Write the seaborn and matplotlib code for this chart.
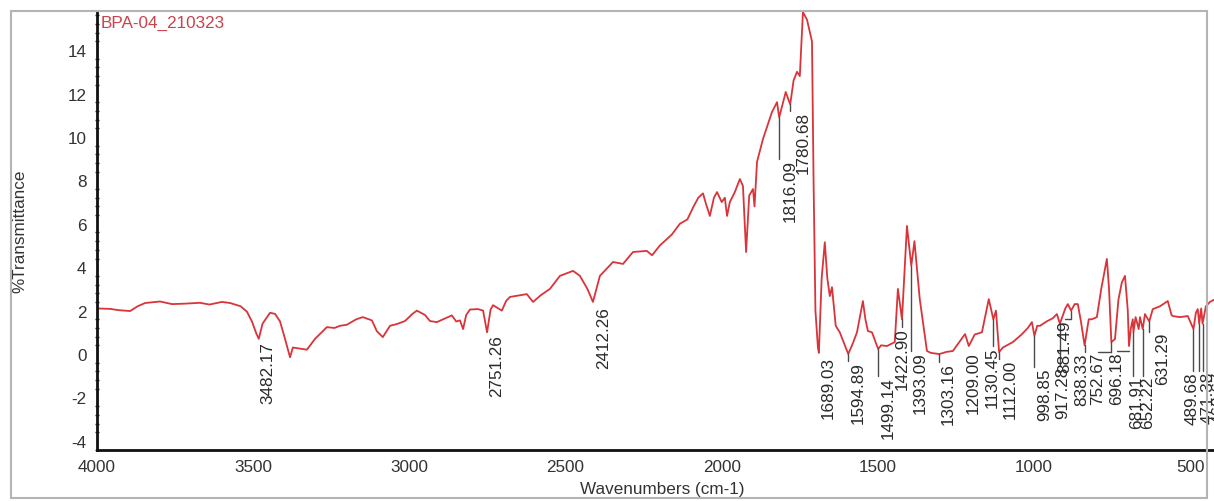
import numpy as np
import pandas as pd
import matplotlib
matplotlib.use("Agg")
import matplotlib.pyplot as plt
from matplotlib.ticker import MultipleLocator
from matplotlib.patches import Rectangle
import seaborn as sns

# ---- spectrum (wavenumber in cm-1, %T) ----
wavenumbers = [
    4000, 3958, 3930, 3894, 3870, 3846, 3798, 3760, 3720, 3670, 3640, 3600,
    3574, 3540, 3520, 3504, 3490, 3482.17, 3470, 3446, 3430, 3414, 3400, 3382,
    3373, 3350, 3328, 3302, 3264, 3240, 3222, 3200, 3170, 3149, 3120, 3104,
    3085, 3062, 3040, 3014, 2990, 2976, 2950, 2934, 2912, 2892, 2864, 2850,
    2838, 2828, 2818, 2806, 2780, 2764, 2751.26, 2740, 2732, 2715, 2704, 2690,
    2678, 2650, 2624, 2604, 2580, 2550, 2518, 2476, 2454, 2430, 2412.26, 2390,
    2348, 2316, 2284, 2240, 2223, 2198, 2160, 2134, 2110, 2090, 2075, 2060,
    2050, 2038, 2025, 2015, 2000, 1990, 1983, 1974, 1958, 1942, 1932, 1922,
    1912, 1900, 1895, 1887, 1868, 1839, 1823, 1816.09, 1807, 1795, 1786, 1780.68,
    1770, 1759, 1750, 1740, 1727, 1711, 1706, 1700, 1692, 1689.03, 1680, 1670,
    1662, 1654, 1647, 1635, 1622, 1594.89, 1580, 1567, 1548, 1540, 1532, 1519,
    1499.14, 1490, 1471, 1446, 1436, 1422.90, 1407, 1393.09, 1383, 1366, 1343, 1330,
    1303.16, 1280, 1260, 1221, 1209.00, 1190, 1167, 1145, 1130.45, 1122, 1112.00, 1100,
    1068, 1040, 1020, 1007, 998.85, 990, 981, 960, 940, 927, 917.28, 900,
    892, 881.49, 870, 860, 850, 838.33, 825, 815, 799, 785, 767, 760,
    752.67, 741, 730, 719, 709, 700, 696.18, 690, 684, 681.91, 675, 665,
    661, 652.22, 645, 631.29, 620, 597, 572, 560, 556, 533, 508, 489.68,
    482, 476, 471.38, 465, 460.67, 450, 437, 424,
]
transmittance = [
    2.10, 2.08, 2.02, 1.98, 2.20, 2.35, 2.42, 2.30, 2.32, 2.36, 2.28, 2.40,
    2.35, 2.20, 1.95, 1.50, 0.95, 0.70, 1.40, 1.90, 1.85, 1.50, 0.80, -0.15,
    0.30, 0.25, 0.20, 0.70, 1.24, 1.20, 1.30, 1.35, 1.60, 1.70, 1.55, 1.05,
    0.78, 1.30, 1.38, 1.52, 1.85, 2.00, 1.80, 1.52, 1.47, 1.60, 1.78, 1.50,
    1.55, 1.15, 1.80, 2.05, 2.07, 2.00, 1.00, 2.05, 2.25, 2.10, 2.00, 2.45,
    2.63, 2.70, 2.76, 2.40, 2.70, 3.00, 3.60, 3.83, 3.60, 3.00, 2.40, 3.60,
    4.24, 4.15, 4.70, 4.75, 4.55, 5.00, 5.50, 6.00, 6.20, 6.80, 7.20, 7.40,
    6.90, 6.36, 7.20, 7.46, 7.00, 7.20, 6.36, 7.00, 7.46, 8.06, 7.74, 4.70,
    7.30, 7.60, 6.80, 8.85, 9.90, 11.15, 11.60, 10.90, 11.40, 12.07, 11.70, 11.50,
    12.60, 13.00, 12.80, 15.75, 15.40, 14.40, 8.00, 2.00, 0.30, 0.05, 3.50, 5.15,
    3.50, 2.67, 3.08, 1.30, 1.00, 0.00, 0.50, 1.00, 2.44, 1.60, 1.06, 1.00,
    0.23, 0.40, 0.37, 0.55, 3.00, 1.60, 5.90, 4.06, 5.20, 2.53, 0.14, 0.05,
    0.00, 0.10, 0.14, 0.92, 0.37, 0.90, 1.00, 2.53, 1.60, 2.00, 0.09, 0.30,
    0.55, 0.90, 1.20, 1.47, 0.83, 1.30, 1.30, 1.50, 1.65, 1.84, 1.40, 2.10,
    2.30, 2.00, 2.30, 2.30, 1.50, 0.40, 1.60, 1.60, 1.70, 3.00, 4.38, 3.00,
    0.55, 0.69, 2.50, 3.30, 3.60, 2.00, 0.37, 1.20, 1.60, 1.00, 1.70, 1.15,
    1.70, 1.15, 1.84, 1.50, 2.07, 2.20, 2.44, 1.80, 1.75, 1.70, 1.75, 1.15,
    1.90, 2.07, 1.40, 2.10, 1.40, 2.20, 2.40, 2.50,
]
assert len(wavenumbers) == len(transmittance)

# ---- peak labels ----
peak_labels = [
    "3482.17", "2751.26", "2412.26", "1816.09", "1780.68", "1689.03", "1594.89",
    "1499.14", "1422.90", "1393.09", "1303.16", "1209.00", "1130.45", "1112.00",
    "998.85", "917.28", "881.49", "838.33", "752.67", "696.18", "681.91",
    "652.22", "631.29", "489.68", "471.38", "460.67",
]
# label placement: text centre (cm-1) and top of the text (%T)
label_x = [
    3453, 2720, 2377, 1782, 1740, 1660, 1564,
    1468, 1423, 1366, 1276, 1196, 1135, 1077,
    965, 908, 902, 847, 796, 735, 671,
    636, 588, 495, 444, 409,
]
label_top = [
    0.60, 0.92, 2.21, 8.99, 11.20, -0.09, -0.32,
    -1.01, 1.24, 0.14, -0.37, 0.14, 0.37, -0.23,
    -0.60, -0.55, 1.60, 0.09, 0.09, 0.14, -1.01,
    -1.01, 1.01, -0.78, -0.78, -0.78,
]

x_ticks = [4000, 3500, 3000, 2500, 2000, 1500, 1000, 500]
y_ticks = [-4, -2, 0, 2, 4, 6, 8, 10, 12, 14]

sns.set_theme(style="white")
plt.rcParams["font.family"] = ["Liberation Sans", "DejaVu Sans"]
plt.rcParams["axes.unicode_minus"] = False

W, H = 1214, 502
fig = plt.figure(figsize=(W / 100, H / 100), dpi=100)
ax = fig.add_axes([97 / W, 1 - 451 / H, 1117 / W, 439 / H])

df = pd.DataFrame({"wavenumber": wavenumbers, "T": transmittance})
sns.lineplot(data=df, x="wavenumber", y="T", ax=ax, color="#d8343a",
             linewidth=1.3, sort=False, estimator=None)

ax.set_xlim(4000, 424)
ax.set_ylim(-4.42, 15.8)
ax.set_xticks(x_ticks)
ax.set_yticks(y_ticks)
ax.yaxis.set_minor_locator(MultipleLocator(0.4))

for side in ("top", "right"):
    ax.spines[side].set_visible(False)
for side in ("left", "bottom"):
    ax.spines[side].set_color("#111111")
    ax.spines[side].set_linewidth(2.0)

fs = 12.3
ax.tick_params(axis="both", which="major", labelsize=fs, colors="#111111",
               labelcolor="#333333", length=4, width=1.2, direction="out")
ax.tick_params(axis="y", which="major", pad=3.5)
ax.tick_params(axis="x", which="major", pad=2.5)
ax.tick_params(axis="y", which="minor", length=2.5, width=1.0, color="#222222",
               direction="inout", left=True)

ax.set_xlabel("Wavenumbers (cm-1)", fontsize=fs, color="#333333")
ax.set_ylabel("%Transmittance", fontsize=fs, color="#333333")
ax.xaxis.set_label_coords(0.506, -0.071)
ax.yaxis.set_label_coords(-0.062, 0.5)

ax.text(0.003, 0.992, "BPA-04_210323", transform=ax.transAxes, fontsize=fs,
        color="#c8434d", ha="left", va="top")

# peak annotations with leader lines
px_per_wn = 1117 / (4000 - 424)
wn_sorted = np.array(wavenumbers[::-1], dtype=float)
t_sorted = np.array(transmittance[::-1], dtype=float)
for lab, lx, ly in zip(peak_labels, label_x, label_top):
    pk = float(lab)
    ty = float(np.interp(pk, wn_sorted, t_sorted))
    if ty - ly > 0.25:
        ax.plot([pk, pk], [ty, ly], color="#4a4a4a", linewidth=1.0, clip_on=False)
    dx_px = (pk - lx) * px_per_wn
    if dx_px < -5:
        ax.plot([pk, lx], [ly, ly], color="#4a4a4a", linewidth=1.0, clip_on=False)
    ax.text(lx, ly, lab, rotation=90, ha="center", va="top", fontsize=fs,
            color="#2a2a2a", clip_on=False)

# outer frame of the figure
fig.patches.append(Rectangle((11 / W, 1 - 499 / H), (1207 - 11) / W, (499 - 12) / H,
                             transform=fig.transFigure, fill=False,
                             edgecolor="#b4b4b4", linewidth=1.5, zorder=0))

fig.savefig("out.png", dpi=100)
